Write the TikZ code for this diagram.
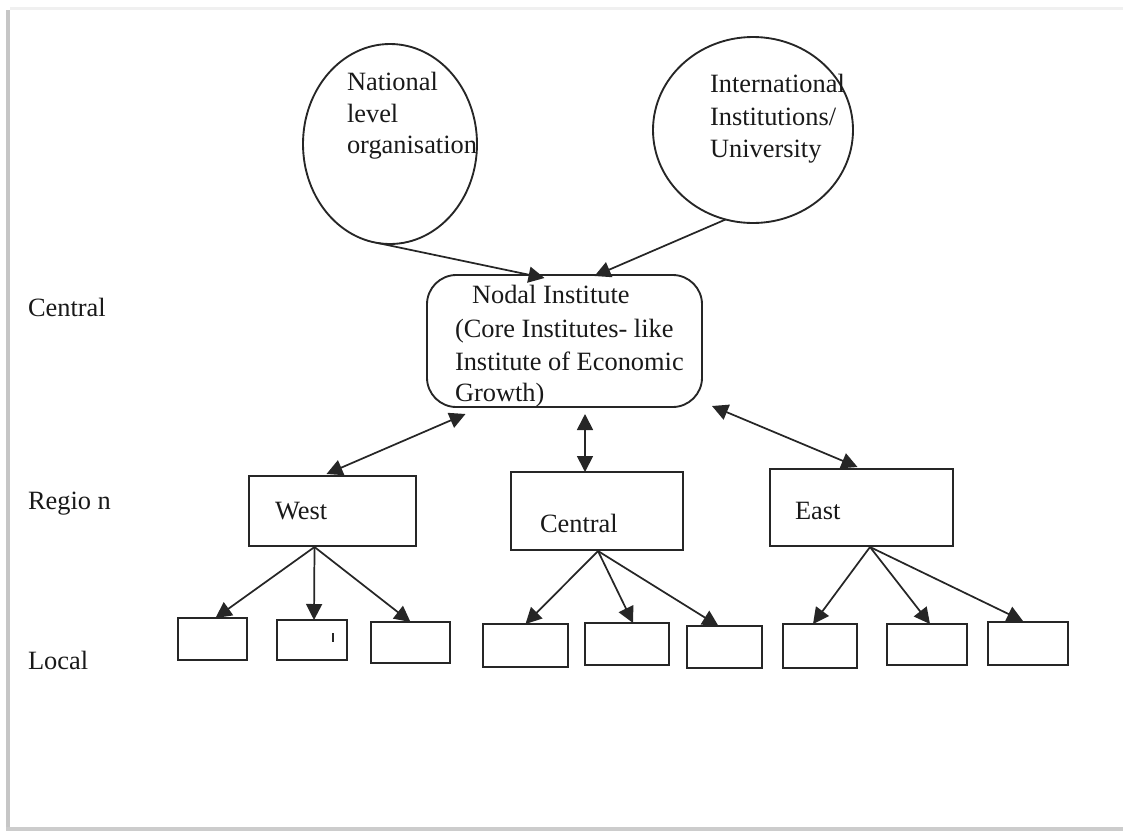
\documentclass[tikz,border=0pt]{standalone}
\usepackage{fontspec}
\setmainfont{Liberation Serif}
\usetikzlibrary{shapes.geometric,arrows.meta,calc}
\begin{document}
\begin{tikzpicture}[x=0.75pt,y=-0.75pt,
  every node/.style={inner sep=0pt, outer sep=0pt},
  shapeline/.style={draw=black!85, line width=1.4pt},
  lbl/.style={anchor=base west, font=\fontsize{19.8}{23.5}\selectfont, text=black!90},
  oval/.style={shapeline, ellipse},
  box/.style={shapeline, rectangle},
  tipa/.tip={Triangle[length=12pt,width=12pt]},
  arr/.style={line width=1.3pt, draw=black!85, -tipa},
  darr/.style={line width=1.3pt, draw=black!85, tipa-tipa}
]
\useasboundingbox (0,0) rectangle (1123,833);
% page frame shadow
\fill[gray!12] (10,7) rectangle (1123,10);
\fill[gray!45] (6,10) rectangle (10,831);
\fill[gray!40] (6,827) rectangle (1123,831);

% top ovals
\node[oval, minimum width=130.5pt, minimum height=150pt] (nat) at (390,144) {};
\node[oval, minimum width=150pt, minimum height=139.5pt] (int) at (753,130) {};
\node[lbl] (natA) at (347,90) {National};
\node[lbl] (natB) at (347,122) {level};
\node[lbl] (natC) at (347,153) {organisation};
\node[lbl] (intA) at (710,92) {International};
\node[lbl] (intB) at (710,125) {Institutions/};
\node[lbl] (intC) at (710,157) {University};

% nodal institute
\node[shapeline, rectangle, rounded corners=22pt, minimum width=206.25pt, minimum height=99pt] (nodal) at (564.5,341) {};
\node[lbl] (nodA) at (472,303) {Nodal Institute};
\node[lbl] (nodB) at (455,337) {(Core Institutes- like};
\node[lbl] (nodC) at (455,370) {Institute of Economic};
\node[lbl] (nodD) at (455,401) {Growth)};

% side labels
\node[lbl] (sCentral) at (28,316) {Central};
\node[lbl] (sRegion) at (28,509) {Regio n};
\node[lbl] (sLocal) at (28,669) {Local};

% region boxes
\node[box, minimum width=125.25pt, minimum height=52.5pt] (west) at (332.5,511) {};
\node[box, minimum width=129pt, minimum height=58.5pt] (cen) at (597,511) {};
\node[box, minimum width=137.25pt, minimum height=57.75pt] (east) at (861.5,507.5) {};
\node[lbl] (westT) at (275,519) {West};
\node[lbl] (cenT) at (540,532) {Central};
\node[lbl] (eastT) at (795,519) {East};

% local boxes
\node[box, minimum width=51.75pt, minimum height=31.5pt] (l1) at (212.5,639) {};
\node[box, minimum width=52.5pt, minimum height=30pt] (l2) at (312,640) {};
\node[box, minimum width=59.25pt, minimum height=30.75pt] (l3) at (410.5,642.5) {};
\node[box, minimum width=63.75pt, minimum height=32.25pt] (l4) at (525.5,645.5) {};
\node[box, minimum width=63pt, minimum height=31.5pt] (l5) at (627,644) {};
\node[box, minimum width=56.25pt, minimum height=31.5pt] (l6) at (724.5,647) {};
\node[box, minimum width=55.5pt, minimum height=33pt] (l7) at (820,646) {};
\node[box, minimum width=60pt, minimum height=30.75pt] (l8) at (927,644.5) {};
\node[box, minimum width=60pt, minimum height=32.25pt] (l9) at (1028,643.5) {};
\draw[black!85, line width=0.8pt] ($(l2.center)+(21,-7)$) -- ($(l2.center)+(21,2)$);

% connector end points
\coordinate (natS) at (nat.263);
\coordinate (intS) at (int.253);
\coordinate (nodT1) at ($(nodal.north)+(-20,3)$);
\coordinate (nodT2) at ($(nodal.north)+(30,1)$);
\coordinate (nodBL) at ($(nodal.south)+(-99,7)$);
\coordinate (nodBC) at ($(nodal.south)+(20.5,7)$);
\coordinate (nodBR) at ($(nodal.south)+(147.5,-1)$);
\coordinate (westN) at ($(west.north)+(-6,-2)$);
\coordinate (cenN) at ($(cen.north)+(-12,0)$);
\coordinate (eastN) at ($(east.north)+(-4,-2)$);
\coordinate (westS) at ($(west.south)+(-18,1)$);
\coordinate (cenS) at ($(cen.south)+(1,1)$);
\coordinate (eastS) at ($(east.south)+(8.5,1)$);

% arrows
\draw[arr] (natS) -- (nodT1);
\draw[arr] (intS) -- (nodT2);
\draw[darr] (westN) -- (nodBL);
\draw[darr] (cenN) -- (nodBC);
\draw[darr] (eastN) -- (nodBR);

\draw[arr] (westS) -- ($(l1.north)+(3,0)$);
\draw[arr] (westS) -- ($(l2.north)+(2,0)$);
\draw[arr] (westS) -- (l3.north);
\draw[arr] (cenS) -- (l4.north);
\draw[arr] (cenS) -- ($(l5.north)+(6,0)$);
\draw[arr] (cenS) -- ($(l6.north)+(-6,0)$);
\draw[arr] (eastS) -- ($(l7.north)+(-7,0)$);
\draw[arr] (eastS) -- ($(l8.north)+(3,0)$);
\draw[arr] (eastS) -- ($(l9.north)+(-5,-1)$);
\end{tikzpicture}
\end{document}
